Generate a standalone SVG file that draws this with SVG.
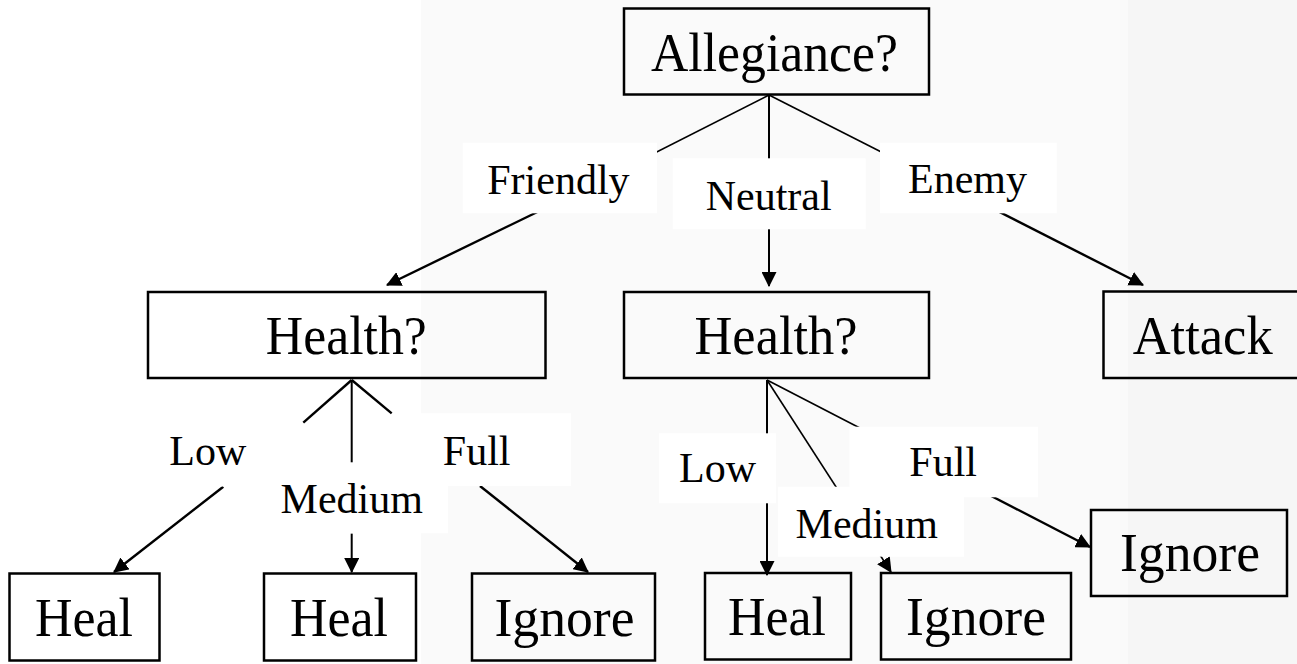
<svg xmlns="http://www.w3.org/2000/svg" width="1297" height="664" viewBox="0 0 1297 664">
<style>
.box{fill:none;stroke:#000;stroke-width:2.5}
.lbl{fill:#fff;stroke:none}
.nt{font-family:"Liberation Serif","Times New Roman",serif;font-size:55px;fill:#000;text-anchor:middle}
.lt{font-family:"Liberation Serif","Times New Roman",serif;font-size:42px;fill:#000;text-anchor:middle}
.thin{stroke:#000;stroke-width:1.6;fill:none}
.thick{stroke:#000;stroke-width:2.4;fill:none}
.vert{stroke:#000;stroke-width:2;fill:none}
</style>
<defs>
<marker id="arr" viewBox="0 0 14 14" refX="13" refY="7" markerWidth="15" markerHeight="15" markerUnits="userSpaceOnUse" orient="auto">
<path d="M0,0 L14,7 L0,14 z" fill="#000"/>
</marker>
</defs>
<rect x="0" y="0" width="421" height="664" fill="#ffffff"/>
<rect x="421" y="0" width="707" height="664" fill="#fafafa"/>
<rect x="1128" y="0" width="169" height="664" fill="#f6f6f6"/>

<g id="connectors">
<line class="thin" x1="769" y1="95" x2="560" y2="201"/>
<line class="thick" x1="560" y1="201" x2="387" y2="285" marker-end="url(#arr)"/>
<line class="vert" x1="769" y1="95" x2="769" y2="194"/>
<line class="vert" x1="769" y1="194" x2="769" y2="286" marker-end="url(#arr)"/>
<line class="thin" x1="769" y1="95" x2="968" y2="196"/>
<line class="thick" x1="968" y1="196" x2="1143" y2="285" marker-end="url(#arr)"/>

<line class="thick" x1="351.7" y1="380" x2="303.3" y2="422.7"/>
<line class="thick" x1="223.3" y1="486.7" x2="114" y2="572" marker-end="url(#arr)"/>
<line class="vert" x1="351.7" y1="380" x2="351.7" y2="462.3"/>
<line class="vert" x1="351.7" y1="533.5" x2="351.7" y2="572" marker-end="url(#arr)"/>
<line class="thick" x1="351.7" y1="380" x2="391.7" y2="413.3"/>
<line class="thick" x1="480" y1="486" x2="588" y2="572" marker-end="url(#arr)"/>

<line class="vert" x1="767" y1="380" x2="767" y2="575" marker-end="url(#arr)"/>
<line class="thin" x1="767" y1="380" x2="891" y2="572" marker-end="url(#arr)"/>
<line class="thin" x1="767" y1="380" x2="900" y2="448.8"/>
<line class="thick" x1="900" y1="448.8" x2="1090" y2="547" marker-end="url(#arr)"/>
</g>

<g id="label-friendly"><rect class="lbl" x="462.7" y="142.7" width="194.3" height="70.6"/><text class="lt" x="558.4" y="194">Friendly</text></g>
<g id="label-neutral"><rect class="lbl" x="672.7" y="158.3" width="193" height="71"/><text class="lt" x="768.7" y="210">Neutral</text></g>
<g id="label-enemy"><rect class="lbl" x="880" y="142.7" width="176.7" height="70.6"/><text class="lt" x="967.5" y="193">Enemy</text></g>

<g id="label-low-l"><rect class="lbl" x="113" y="423" width="190" height="63.5"/><text class="lt" x="207.8" y="465">Low</text></g>
<g id="label-medium-l"><rect class="lbl" x="255" y="463" width="193" height="70.3"/><text class="lt" x="351.7" y="513.3">Medium</text></g>
<g id="label-full-l"><rect class="lbl" x="392" y="413.3" width="179" height="72.7"/><text class="lt" x="476.7" y="465">Full</text></g>

<g id="label-low-r"><rect class="lbl" x="659" y="433.3" width="117" height="70"/><text class="lt" x="717.5" y="481.7">Low</text></g>
<g id="label-medium-r"><rect class="lbl" x="778" y="486.7" width="186" height="70"/><text class="lt" x="866.7" y="538.3">Medium</text></g>
<g id="label-full-r"><rect class="lbl" x="849.5" y="426.7" width="188.5" height="70.6"/><text class="lt" x="943.2" y="476">Full</text></g>

<g id="n-allegiance"><rect class="box" x="624" y="8.5" width="305" height="86"/><text class="nt" x="774.5" y="71" textLength="247" lengthAdjust="spacingAndGlyphs">Allegiance?</text></g>
<g id="n-health-l"><rect class="box" x="148" y="292" width="397.5" height="86"/><text class="nt" x="346.3" y="354" textLength="161" lengthAdjust="spacingAndGlyphs">Health?</text></g>
<g id="n-health-r"><rect class="box" x="624" y="292" width="305" height="86"/><text class="nt" x="776" y="354" textLength="163" lengthAdjust="spacingAndGlyphs">Health?</text></g>
<g id="n-attack"><rect class="box" x="1103.5" y="291.5" width="200" height="86.5"/><text class="nt" x="1202.7" y="354" textLength="140" lengthAdjust="spacingAndGlyphs">Attack</text></g>
<g id="n-heal1"><rect class="box" x="9.5" y="573.5" width="150" height="87"/><text class="nt" x="84" y="636" textLength="98" lengthAdjust="spacingAndGlyphs">Heal</text></g>
<g id="n-heal2"><rect class="box" x="264" y="573.5" width="152" height="87"/><text class="nt" x="339" y="636" textLength="98" lengthAdjust="spacingAndGlyphs">Heal</text></g>
<g id="n-ignore1"><rect class="box" x="472" y="573.5" width="183" height="87"/><text class="nt" x="564.5" y="636" textLength="140" lengthAdjust="spacingAndGlyphs">Ignore</text></g>
<g id="n-heal3"><rect class="box" x="705" y="573" width="146" height="86.5"/><text class="nt" x="777" y="635" textLength="98" lengthAdjust="spacingAndGlyphs">Heal</text></g>
<g id="n-ignore2"><rect class="box" x="881" y="573" width="190" height="86.5"/><text class="nt" x="976" y="635" textLength="140" lengthAdjust="spacingAndGlyphs">Ignore</text></g>
<g id="n-ignore3"><rect class="box" x="1091" y="510" width="196" height="86"/><text class="nt" x="1190" y="571" textLength="140" lengthAdjust="spacingAndGlyphs">Ignore</text></g>
</svg>
